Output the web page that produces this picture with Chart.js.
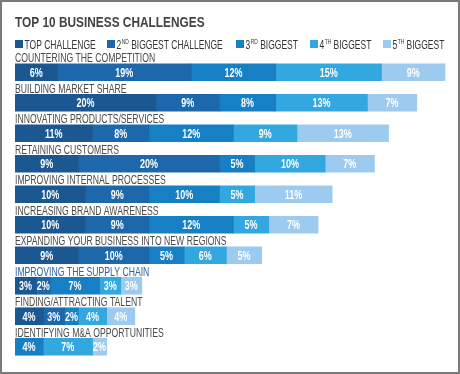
<!DOCTYPE html>
<html>
<head>
<meta charset="utf-8">
<script src="https://cdn.jsdelivr.net/npm/chart.js@4/dist/chart.umd.min.js"></script>
<style>
  body { margin: 0; background: #fff; }
</style>
</head>
<body>
<canvas id="chart" width="460" height="374"></canvas>
<script>
var categories = [
    'COUNTERING THE COMPETITION',
    'BUILDING MARKET SHARE',
    'INNOVATING PRODUCTS/SERVICES',
    'RETAINING CUSTOMERS',
    'IMPROVING INTERNAL PROCESSES',
    'INCREASING BRAND AWARENESS',
    'EXPANDING YOUR BUSINESS INTO NEW REGIONS',
    'IMPROVING THE SUPPLY CHAIN',
    'FINDING/ATTRACTING TALENT',
    'IDENTIFYING M&A OPPORTUNITIES'
]
var topChallenge = [6, 20, 11, 9, 10, 10, 9, 3, 4, null]
var secondBiggest = [19, 9, 8, 20, 9, 9, 10, 2, 3, null]
var thirdBiggest = [12, 8, 12, 5, 10, 12, 5, 7, 2, 4]
var fourthBiggest = [15, 13, 9, 10, 5, 5, 6, 3, 4, 7]
var fifthBiggest = [9, 7, 13, 7, 11, 7, 5, 3, 4, 2]

// legend text: [main, superscript, rest]
var legendItems = [
    ['TOP CHALLENGE', '', ''],
    ['2', 'ND', ' BIGGEST CHALLENGE'],
    ['3', 'RD', ' BIGGEST'],
    ['4', 'TH', ' BIGGEST'],
    ['5', 'TH', ' BIGGEST']
]
var legendX = [15, 107, 236, 310, 383]

var colors = ['#1b5791', '#1c68ab', '#177fc4', '#33a7df', '#9ccbef']
var FONT = '"Liberation Sans", Arial, sans-serif'

// the original uses a condensed face, so squeeze the text horizontally
function squeezed(ctx, str, x, y, sx) {
    ctx.save()
    ctx.translate(x, y)
    ctx.scale(sx, 1)
    ctx.fillText(str, 0, 0)
    ctx.restore()
    return ctx.measureText(str).width * sx
}

var decorations = {
    id: 'decorations',
    beforeDraw: function (chart) {
        var ctx = chart.ctx
        ctx.save()
        ctx.strokeStyle = '#7a7a7a'
        ctx.lineWidth = 2
        ctx.strokeRect(1, 1, 458, 372)

        // title
        ctx.fillStyle = '#434343'
        ctx.font = 'bold 15.5px ' + FONT
        ctx.textBaseline = 'alphabetic'
        squeezed(ctx, 'TOP 10 BUSINESS CHALLENGES', 15, 27, 0.765)

        // legend
        for (var i = 0; i < legendItems.length; i++) {
            var x = legendX[i]
            ctx.fillStyle = colors[i]
            ctx.fillRect(x, 40, 8, 8)
            ctx.fillStyle = '#333333'
            x += 9.5
            ctx.font = '12.5px ' + FONT
            x += squeezed(ctx, legendItems[i][0], x, 48.5, 0.68)
            if (legendItems[i][1]) {
                ctx.font = '6.5px ' + FONT
                x += squeezed(ctx, legendItems[i][1], x + 0.5, 44, 0.75) + 0.5
                ctx.font = '12.5px ' + FONT
                squeezed(ctx, legendItems[i][2], x, 48.5, 0.68)
            }
        }
        ctx.restore()
    },
    afterDatasetsDraw: function (chart) {
        var ctx = chart.ctx
        ctx.save()
        // category names above each bar
        var yScale = chart.scales.y
        ctx.font = '13px ' + FONT
        ctx.textBaseline = 'alphabetic'
        for (var i = 0; i < categories.length; i++) {
            var yc = yScale.getPixelForValue(i)
            ctx.fillStyle = i === 7 ? '#2a62a6' : '#4a4a4a'
            squeezed(ctx, categories[i], 15, yc - 10, 0.665)
        }
        // percentage labels
        ctx.fillStyle = '#ffffff'
        ctx.font = 'bold 12.5px ' + FONT
        ctx.textAlign = 'center'
        ctx.textBaseline = 'middle'
        chart.data.datasets.forEach(function (ds, di) {
            var meta = chart.getDatasetMeta(di)
            meta.data.forEach(function (bar, j) {
                var v = ds.data[j]
                if (!v) return
                squeezed(ctx, v + '%', (bar.x + bar.base) / 2, bar.y + 1, 0.72)
            })
        })
        ctx.restore()
    }
}

new Chart(document.getElementById('chart'), {
    type: 'bar',
    data: {
        labels: categories,
        datasets: [
            { label: 'TOP CHALLENGE', data: topChallenge, backgroundColor: colors[0] },
            { label: '2ND BIGGEST CHALLENGE', data: secondBiggest, backgroundColor: colors[1] },
            { label: '3RD BIGGEST', data: thirdBiggest, backgroundColor: colors[2] },
            { label: '4TH BIGGEST', data: fourthBiggest, backgroundColor: colors[3] },
            { label: '5TH BIGGEST', data: fifthBiggest, backgroundColor: colors[4] }
        ]
    },
    options: {
        indexAxis: 'y',
        responsive: false,
        animation: false,
        layout: { padding: { left: 15, right: 8, top: 57, bottom: 12 } },
        datasets: { bar: { barThickness: 17, borderWidth: 0 } },
        scales: {
            x: { stacked: true, min: 0, max: 62, display: false },
            y: { stacked: true, display: false }
        },
        plugins: {
            legend: { display: false },
            tooltip: { enabled: false }
        }
    },
    plugins: [decorations]
});
</script>
</body>
</html>
